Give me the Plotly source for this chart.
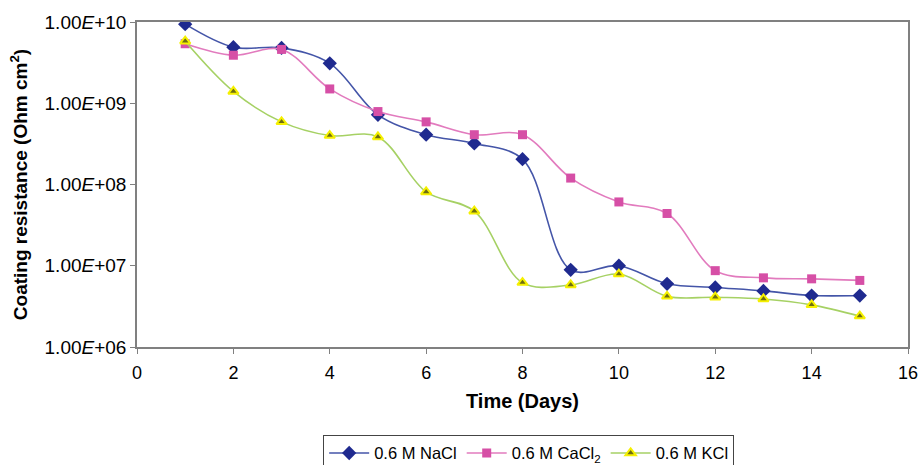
import plotly.graph_objects as go

days = list(range(1, 16))
nacl = [9.4e9, 4.9e9, 4.8e9, 3.1e9, 7.2e8, 4.1e8, 3.2e8, 2.05e8, 8.9e6, 1.0e7, 6.0e6, 5.4e6, 4.9e6, 4.3e6, 4.3e6]
cacl2 = [5.4e9, 3.9e9, 4.6e9, 1.5e9, 7.9e8, 5.9e8, 4.1e8, 4.1e8, 1.2e8, 6.1e7, 4.4e7, 8.7e6, 7.1e6, 6.9e6, 6.6e6]
kcl = [5.8e9, 1.4e9, 5.9e8, 4.0e8, 3.85e8, 8.1e7, 4.7e7, 6.2e6, 5.8e6, 7.9e6, 4.2e6, 4.1e6, 3.9e6, 3.3e6, 2.4e6]

y_tickvals = [1e6, 1e7, 1e8, 1e9, 1e10]
y_ticktext = ["1.00<i>E</i>+06", "1.00<i>E</i>+07", "1.00<i>E</i>+08", "1.00<i>E</i>+09", "1.00<i>E</i>+10"]
x_tickvals = list(range(0, 17, 2))

font = "Liberation Sans, Arial, sans-serif"

fig = go.Figure()
fig.add_trace(go.Scatter(
    x=days, y=nacl, name="0.6 M NaCl", mode="lines+markers",
    line=dict(color="#4455A8", width=1.6, shape="spline", smoothing=1.0),
    marker=dict(symbol="diamond", size=11, color="#1F2A8F", line=dict(color="#1F2A8F", width=0)),
))
fig.add_trace(go.Scatter(
    x=days, y=cacl2, name="0.6 M CaCl<sub>2</sub>", mode="lines+markers",
    line=dict(color="#E27BBE", width=1.6, shape="spline", smoothing=1.0),
    marker=dict(symbol="square", size=9, color="#D64FA6", line=dict(color="#D64FA6", width=0)),
))
fig.add_trace(go.Scatter(
    x=days, y=kcl, name="0.6 M KCl", mode="lines+markers",
    line=dict(color="#A6D164", width=1.6, shape="spline", smoothing=1.0),
    marker=dict(symbol="triangle-up", size=9, color="#6E6E10", line=dict(color="#F5F000", width=2)),
))

fig.update_layout(
    width=919, height=465,
    margin=dict(l=137, r=11, t=22, b=118, autoexpand=False),
    paper_bgcolor="white", plot_bgcolor="white",
    font=dict(family=font, color="black", size=18),
    showlegend=True,
    legend=dict(
        orientation="h", x=0.508, xanchor="center", y=-0.27, yanchor="top",
        bordercolor="#444444", borderwidth=1, font=dict(size=16.5),
        itemwidth=40, tracegroupgap=0,
    ),
)
fig.update_xaxes(
    range=[0, 16], tickvals=x_tickvals, showgrid=False, zeroline=False,
    showline=True, linecolor="#808080", linewidth=1.5, mirror=True,
    ticks="outside", ticklen=5, tickcolor="#808080",
    tickfont=dict(size=18), automargin=False, ticklabelstandoff=4,
    title=dict(text="<b>Time (Days)</b>", font=dict(size=20), standoff=12),
)
fig.update_yaxes(
    type="log", range=[6, 10], tickvals=y_tickvals, ticktext=y_ticktext,
    showgrid=False, zeroline=False,
    showline=True, linecolor="#808080", linewidth=1.5, mirror=True,
    ticks="outside", ticklen=5, tickcolor="#808080",
    tickfont=dict(size=19), automargin=False,
    title=dict(text="<b>Coating resistance (Ohm cm<sup>2</sup>)</b>", font=dict(size=19), standoff=12),
)

fig.write_html("out.html")
